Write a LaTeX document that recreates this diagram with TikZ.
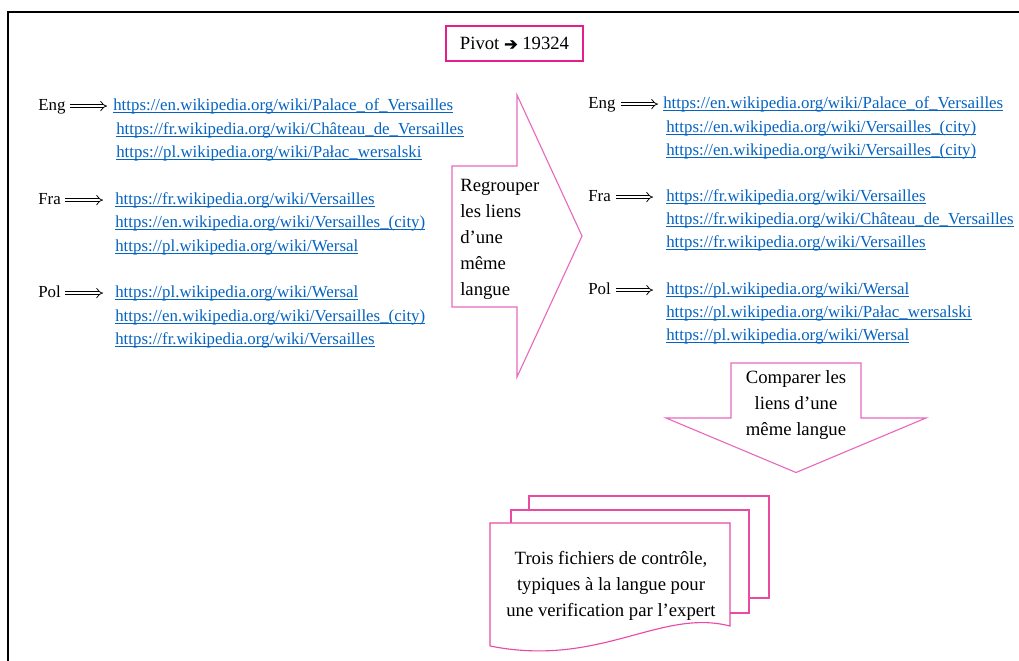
\documentclass[tikz,border=0pt]{standalone}
\usepackage{fontspec}
\setmainfont{Liberation Serif}
\newfontfamily\flechefont[FakeBold=2.5]{DejaVu Sans}
\usetikzlibrary{arrows.meta}
\definecolor{lienbleu}{RGB}{5,99,193}
\definecolor{rose}{RGB}{228,30,140}
\definecolor{roseclair}{RGB}{232,105,190}
\newsavebox\lienbox
\newcommand\lien[1]{\sbox\lienbox{#1}\rlap{\rule[-1.6pt]{\wd\lienbox}{0.55pt}}\usebox\lienbox}

\begin{document}
\begin{tikzpicture}[x=0.025cm, y=-0.025cm,
    etiq/.style={inner sep=0pt, text height=0.75em, text depth=0.05em, anchor=base west, font=\fontsize{12}{14}\selectfont},
    lien/.style={etiq, text=lienbleu},
    fleche/.style={double, double distance=2pt, line width=0.55pt, -{Implies}},
    forme/.style={draw=roseclair, line width=0.8pt},
    doc/.style={draw=rose!80!white, line width=0.8pt},
    bloc/.style={inner sep=0pt, font=\fontsize{13.3}{18.5}\selectfont}]
                \useasboundingbox (0,0) rectangle (1019,661);
                \draw[line width=1.3pt] (8,680) -- (8,12) -- (1040,12);
                \node[draw=rose, line width=1.4pt, inner sep=0pt, minimum width=97pt, minimum height=24.8pt, font=\fontsize{13.3}{16}\selectfont] (pivot) at (514.5,43.5) {Pivot {\flechefont\fontsize{11.5}{14}\selectfont ➔} 19324};

                \node[etiq] (engG) at (38,111) {Eng};
                \node[lien] (engG1) at (113,111) {\lien{https://en.wikipedia.org/wiki/Palace\_of\_Versailles}};
                \node[lien] (engG2) at (116,135) {\lien{https://fr.wikipedia.org/wiki/Château\_de\_Versailles}};
                \node[lien] (engG3) at (116,158) {\lien{https://pl.wikipedia.org/wiki/Pałac\_wersalski}};
                \node[etiq] (fraG) at (38,205) {Fra};
                \node[lien] (fraG1) at (115,205) {\lien{https://fr.wikipedia.org/wiki/Versailles}};
                \node[lien] (fraG2) at (115,228) {\lien{https://en.wikipedia.org/wiki/Versailles\_(city)}};
                \node[lien] (fraG3) at (115,251.5) {\lien{https://pl.wikipedia.org/wiki/Wersal}};
                \node[etiq] (polG) at (38,298) {Pol};
                \node[lien] (polG1) at (115,298) {\lien{https://pl.wikipedia.org/wiki/Wersal}};
                \node[lien] (polG2) at (115,321.5) {\lien{https://en.wikipedia.org/wiki/Versailles\_(city)}};
                \node[lien] (polG3) at (115,345) {\lien{https://fr.wikipedia.org/wiki/Versailles}};
                \draw[fleche, shorten <=2.8pt, shorten >=4.2pt] (engG.east) -- (engG1.west);
                \draw[fleche, shorten <=3pt, shorten >=8.5pt] (fraG.east) -- (fraG1.west);
                \draw[fleche, shorten <=3pt, shorten >=8.5pt] (polG.east) -- (polG1.west);

                \draw[forme] (452,166) -- (517,166) -- (517,95) -- (582,236) -- (517,377) -- (517,307) -- (452,307) -- cycle;
                \node[bloc, anchor=north west, align=left] (regrouper) at (460,179) {Regrouper\\les liens\\d’une\\même\\langue};

                \node[etiq] (engD) at (588,109) {Eng};
                \node[lien] (engD1) at (663,109) {\lien{https://en.wikipedia.org/wiki/Palace\_of\_Versailles}};
                \node[lien] (engD2) at (666,132.5) {\lien{https://en.wikipedia.org/wiki/Versailles\_(city)}};
                \node[lien] (engD3) at (666,155.5) {\lien{https://en.wikipedia.org/wiki/Versailles\_(city)}};
                \node[etiq] (fraD) at (588,202) {Fra};
                \node[lien] (fraD1) at (666,202) {\lien{https://fr.wikipedia.org/wiki/Versailles}};
                \node[lien] (fraD2) at (666,225) {\lien{https://fr.wikipedia.org/wiki/Château\_de\_Versailles}};
                \node[lien] (fraD3) at (666,248) {\lien{https://fr.wikipedia.org/wiki/Versailles}};
                \node[etiq] (polD) at (588,295) {Pol};
                \node[lien] (polD1) at (666,295) {\lien{https://pl.wikipedia.org/wiki/Wersal}};
                \node[lien] (polD2) at (666,318) {\lien{https://pl.wikipedia.org/wiki/Pałac\_wersalski}};
                \node[lien] (polD3) at (666,340.5) {\lien{https://pl.wikipedia.org/wiki/Wersal}};
                \draw[fleche, shorten <=3.8pt, shorten >=3.5pt] (engD.east) -- (engD1.west);
                \draw[fleche, shorten <=3.8pt, shorten >=9.2pt] (fraD.east) -- (fraD1.west);
                \draw[fleche, shorten <=3.8pt, shorten >=9.2pt] (polD.east) -- (polD1.west);

                \draw[forme] (731,363) -- (861,363) -- (861,418) -- (926,418) -- (796,472.5) -- (666,418) -- (731,418) -- cycle;
                \node[bloc, align=center] (comparer) at (796,405.5) {Comparer les\\liens d’une\\même langue};

                \draw[doc] (529,510) -- (529,496) -- (769,496) -- (769,598) -- (749,598);
                \draw[doc] (511,523) -- (511,510) -- (749,510) -- (749,613) -- (730,613);
                \draw[doc] (490,646) -- (490,523) -- (730,523) -- (730,626) .. controls (660,608) and (600,668) .. (490,646);
                \node[bloc, align=center] (fichiers) at (611,585.5) {Trois fichiers de contrôle,\\typiques à la langue pour\\une verification par l’expert};
            \end{tikzpicture}
\end{document}
